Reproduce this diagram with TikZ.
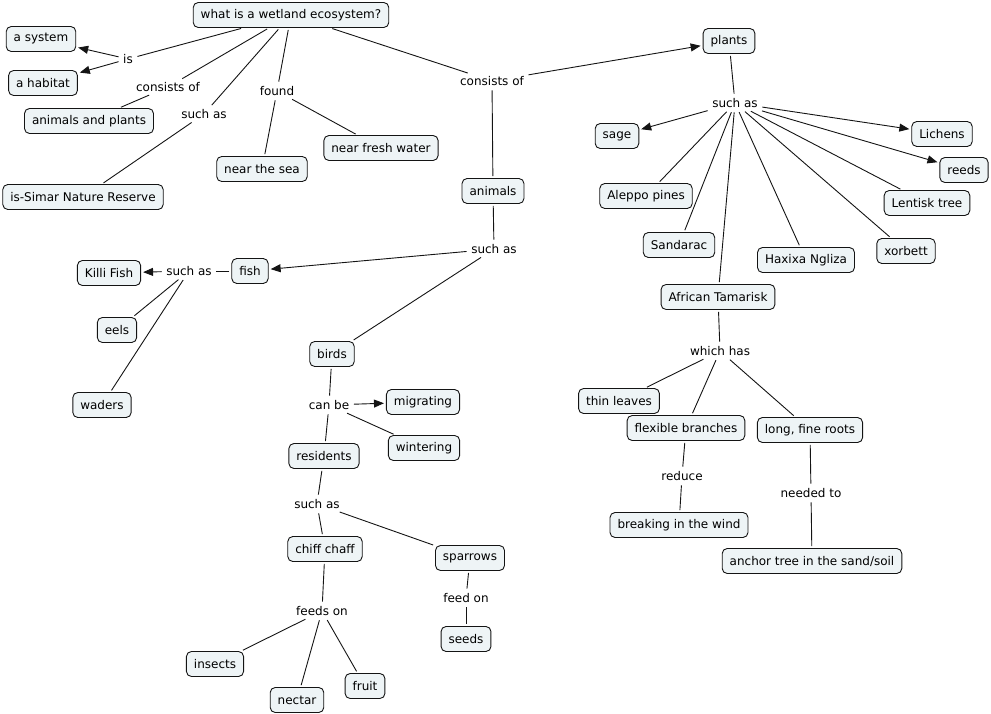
\documentclass[tikz,border=0pt]{standalone}
\usepackage{fontspec}
\setmainfont{DejaVu Sans}
\usetikzlibrary{arrows.meta}
\definecolor{cfill}{RGB}{238,244,246}
\definecolor{cline}{RGB}{20,20,20}
\tikzset{
  concept/.style={draw=cline, line width=0.9pt, rounded corners=5pt, fill=cfill,
    inner xsep=7.5pt, inner ysep=0pt, minimum height=25pt, font=\fontsize{12}{14}\selectfont},
  lp/.style={inner sep=2.5pt, font=\fontsize{12}{14}\selectfont},
  ln/.style={draw=cline, line width=0.9pt, shorten <=2pt, shorten >=2pt},
  ar/.style={ln, -{Triangle[length=10pt,width=8pt]}}
}
\begin{document}
\begin{tikzpicture}[x=1pt,y=-1pt]
\useasboundingbox (0,0) rectangle (991,714);
% concepts
\node[concept] (q) at (291,15) {what is a wetland ecosystem?};
\node[concept] (asys) at (41,39) {a system};
\node[concept] (ahab) at (43,83) {a habitat};
\node[concept] (anpl) at (89,121) {animals and plants};
\node[concept] (simar) at (83,197) {is-Simar Nature Reserve};
\node[concept] (sea) at (262,169) {near the sea};
\node[concept] (fresh) at (381,148) {near fresh water};
\node[concept] (plants) at (729,41) {plants};
\node[concept] (animals) at (493,191) {animals};
\node[concept] (sage) at (617,136) {sage};
\node[concept] (lichens) at (942,134) {Lichens};
\node[concept] (reeds) at (964,170) {reeds};
\node[concept] (aleppo) at (646,196) {Aleppo pines};
\node[concept] (sandarac) at (679,245) {Sandarac};
\node[concept] (haxixa) at (806,260) {Haxixa Ngliza};
\node[concept] (xorbett) at (906,251) {xorbett};
\node[concept] (lentisk) at (927,203) {Lentisk tree};
\node[concept] (tamarisk) at (718,297) {African Tamarisk};
\node[concept] (thin) at (619,401) {thin leaves};
\node[concept] (flex) at (686,428) {flexible branches};
\node[concept] (roots) at (810,430) {long, fine roots};
\node[concept] (breaking) at (679,525) {breaking in the wind};
\node[concept] (anchor) at (812,561) {anchor tree in the sand/soil};
\node[concept] (fish) at (250,271) {fish};
\node[concept] (killi) at (109,273) {Killi Fish};
\node[concept] (eels) at (117,330) {eels};
\node[concept] (waders) at (102,405) {waders};
\node[concept] (birds) at (332,354) {birds};
\node[concept] (migr) at (423,402) {migrating};
\node[concept] (wint) at (424,448) {wintering};
\node[concept] (resid) at (324,456) {residents};
\node[concept] (chiff) at (325,549) {chiff chaff};
\node[concept] (sparrows) at (470,558) {sparrows};
\node[concept] (seeds) at (466,639) {seeds};
\node[concept] (insects) at (215,664) {insects};
\node[concept] (nectar) at (297,700) {nectar};
\node[concept] (fruit) at (365,686) {fruit};
% linking phrases
\node[lp] (is) at (128,59) {is};
\node[lp] (cons1) at (168,87) {consists of};
\node[lp] (such1) at (204,114) {such as};
\node[lp] (found) at (277,91) {found};
\node[lp] (cons2) at (492,81) {consists of};
\node[lp] (such2) at (735,103) {such as};
\node[lp] (such3) at (494,249) {such as};
\node[lp] (such4) at (189,271) {such as};
\node[lp] (canbe) at (329,405) {can be};
\node[lp] (such5) at (317,504) {such as};
\node[lp] (feeds) at (322,611) {feeds on};
\node[lp] (feedon) at (466,598) {feed on};
\node[lp] (which) at (720,351) {which has};
\node[lp] (reduce) at (682,476) {reduce};
\node[lp] (needed) at (811,493) {needed to};
% connectors
\draw[ln] (q) -- (is);
\draw[ar] (is) -- (asys);
\draw[ar] (is) -- (ahab);
\draw[ln] (q) -- (cons1);
\draw[ln] (cons1) -- (anpl);
\draw[ln] (q) -- (such1);
\draw[ln] (such1) -- (simar);
\draw[ln] (q) -- (found);
\draw[ln] (found) -- (sea);
\draw[ln] (found) -- (fresh);
\draw[ln] (q) -- (cons2);
\draw[ar] (cons2) -- (plants);
\draw[ln] (cons2) -- (animals);
\draw[ln] (plants) -- (such2);
\draw[ar] (such2) -- (sage);
\draw[ar] (such2) -- (lichens);
\draw[ar] (such2) -- (reeds);
\draw[ln] (such2) -- (aleppo);
\draw[ln] (such2) -- (sandarac);
\draw[ln] (such2) -- (tamarisk);
\draw[ln] (such2) -- (haxixa);
\draw[ln] (such2) -- (xorbett);
\draw[ln] (such2) -- (lentisk);
\draw[ln] (tamarisk) -- (which);
\draw[ln] (which) -- (thin);
\draw[ln] (which) -- (flex);
\draw[ln] (which) -- (roots);
\draw[ln] (flex) -- (reduce);
\draw[ln] (reduce) -- (breaking);
\draw[ln] (roots) -- (needed);
\draw[ln] (needed) -- (anchor);
\draw[ln] (animals) -- (such3);
\draw[ar] (such3) -- (fish);
\draw[ln] (such3) -- (birds);
\draw[ln] (fish) -- (such4);
\draw[ar] (such4) -- (killi);
\draw[ln] (such4) -- (eels);
\draw[ln] (such4) -- (waders);
\draw[ln] (birds) -- (canbe);
\draw[ar] (canbe) -- (migr);
\draw[ln] (canbe) -- (wint);
\draw[ln] (canbe) -- (resid);
\draw[ln] (resid) -- (such5);
\draw[ln] (such5) -- (chiff);
\draw[ln] (such5) -- (sparrows);
\draw[ln] (chiff) -- (feeds);
\draw[ln] (feeds) -- (insects);
\draw[ln] (feeds) -- (nectar);
\draw[ln] (feeds) -- (fruit);
\draw[ln] (sparrows) -- (feedon);
\draw[ln] (feedon) -- (seeds);
\end{tikzpicture}
\end{document}
